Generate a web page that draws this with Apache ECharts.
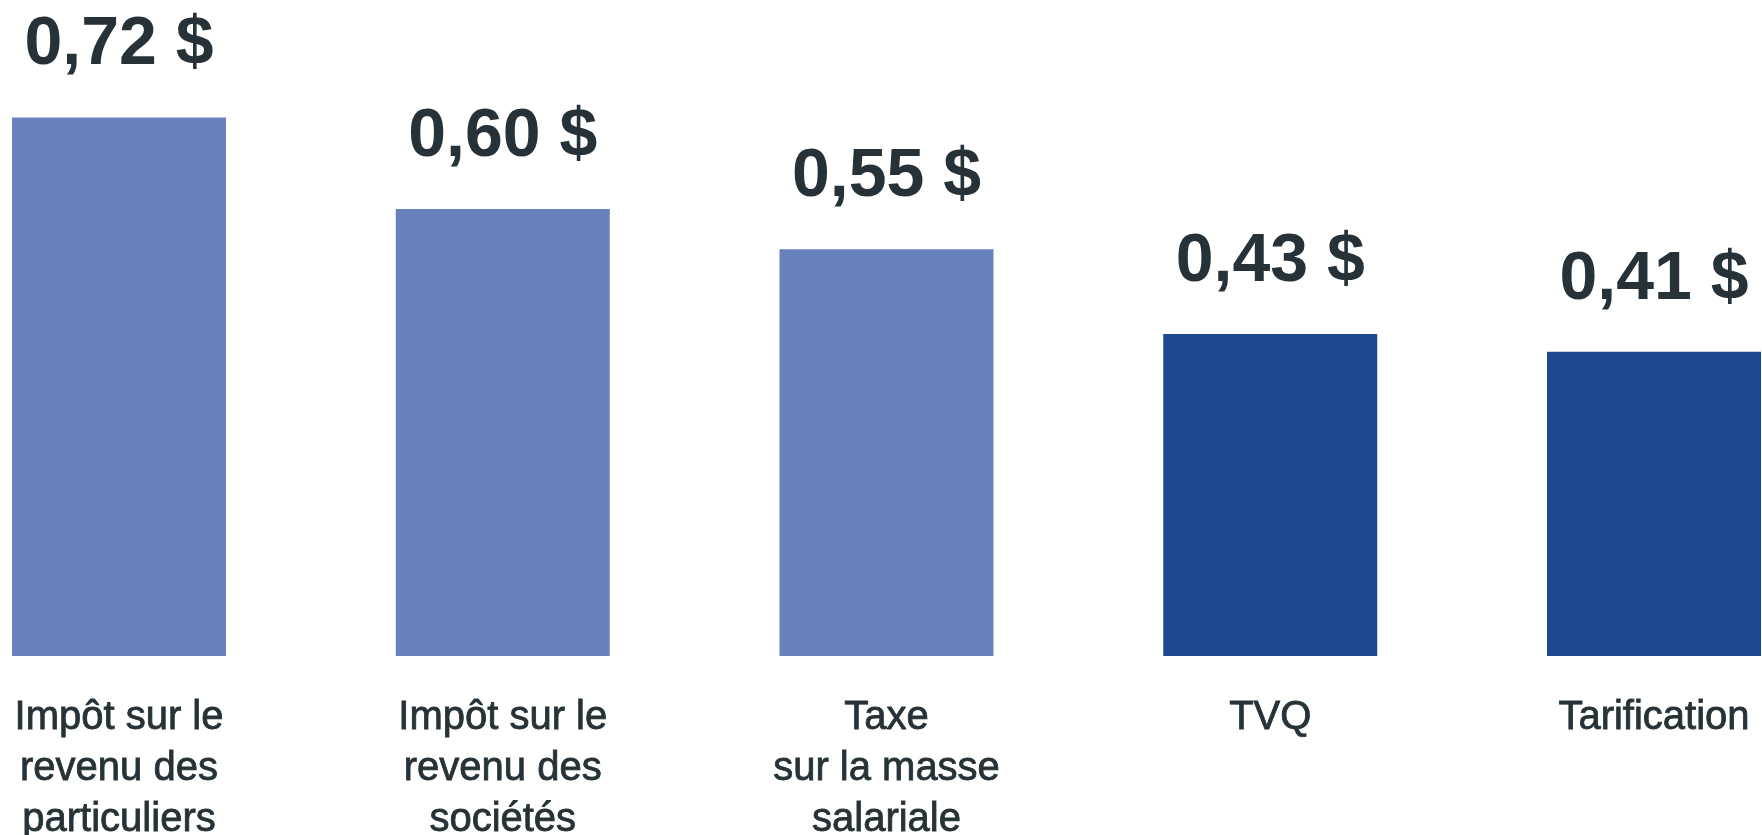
<!DOCTYPE html>
<html>
<head>
<meta charset="utf-8">
<script src="https://cdn.jsdelivr.net/npm/echarts@6/dist/echarts.min.js"></script>
<style>
  html, body { margin: 0; padding: 0; background: #fff; overflow: hidden; }
  #container { width: 1762px; height: 835px; }
</style>
</head>
<body>
<div id="container"></div>
<script>
var categories = [
  'Impôt sur le\nrevenu des\nparticuliers',
  'Impôt sur le\nrevenu des\nsociétés',
  'Taxe\nsur la masse\nsalariale',
  'TVQ',
  'Tarification'
];
var values = [0.724, 0.601, 0.547, 0.433, 0.409];

var lightBlue = '#6880bc';
var darkBlue = '#1e4890';
var textColor = '#263238';

var chart = echarts.init(document.getElementById('container'));

var option = {
  animation: false,
  grid: {
    left: 119,
    right: 108,
    top: 61,
    bottom: 179,
    outerBoundsMode: 'none'
  },
  xAxis: {
    type: 'category',
    data: categories,
    boundaryGap: false,
    axisLine: { show: false },
    axisTick: { show: false },
    axisLabel: {
      margin: 36,
      interval: 0,
      color: textColor,
      fontFamily: 'Liberation Sans',
      fontSize: 40,
      lineHeight: 51,
      // un peu plus gras, comme l'original
      textBorderColor: textColor,
      textBorderWidth: 0.8
    }
  },
  yAxis: {
    type: 'value',
    min: 0,
    max: 0.8,
    show: false,
    splitLine: { show: false }
  },
  series: [{
    type: 'bar',
    data: values,
    barWidth: 214,
    clip: false,
    itemStyle: {
      color: function (params) {
        return params.dataIndex < 3 ? lightBlue : darkBlue;
      }
    },
    label: {
      show: true,
      position: 'top',
      distance: 38,
      color: textColor,
      fontFamily: 'Liberation Sans',
      fontWeight: 'bold',
      fontSize: 68,
      formatter: function (p) {
        return p.value.toFixed(2).replace('.', ',') + ' $';
      }
    }
  }]
};

chart.setOption(option);
</script>
</body>
</html>
